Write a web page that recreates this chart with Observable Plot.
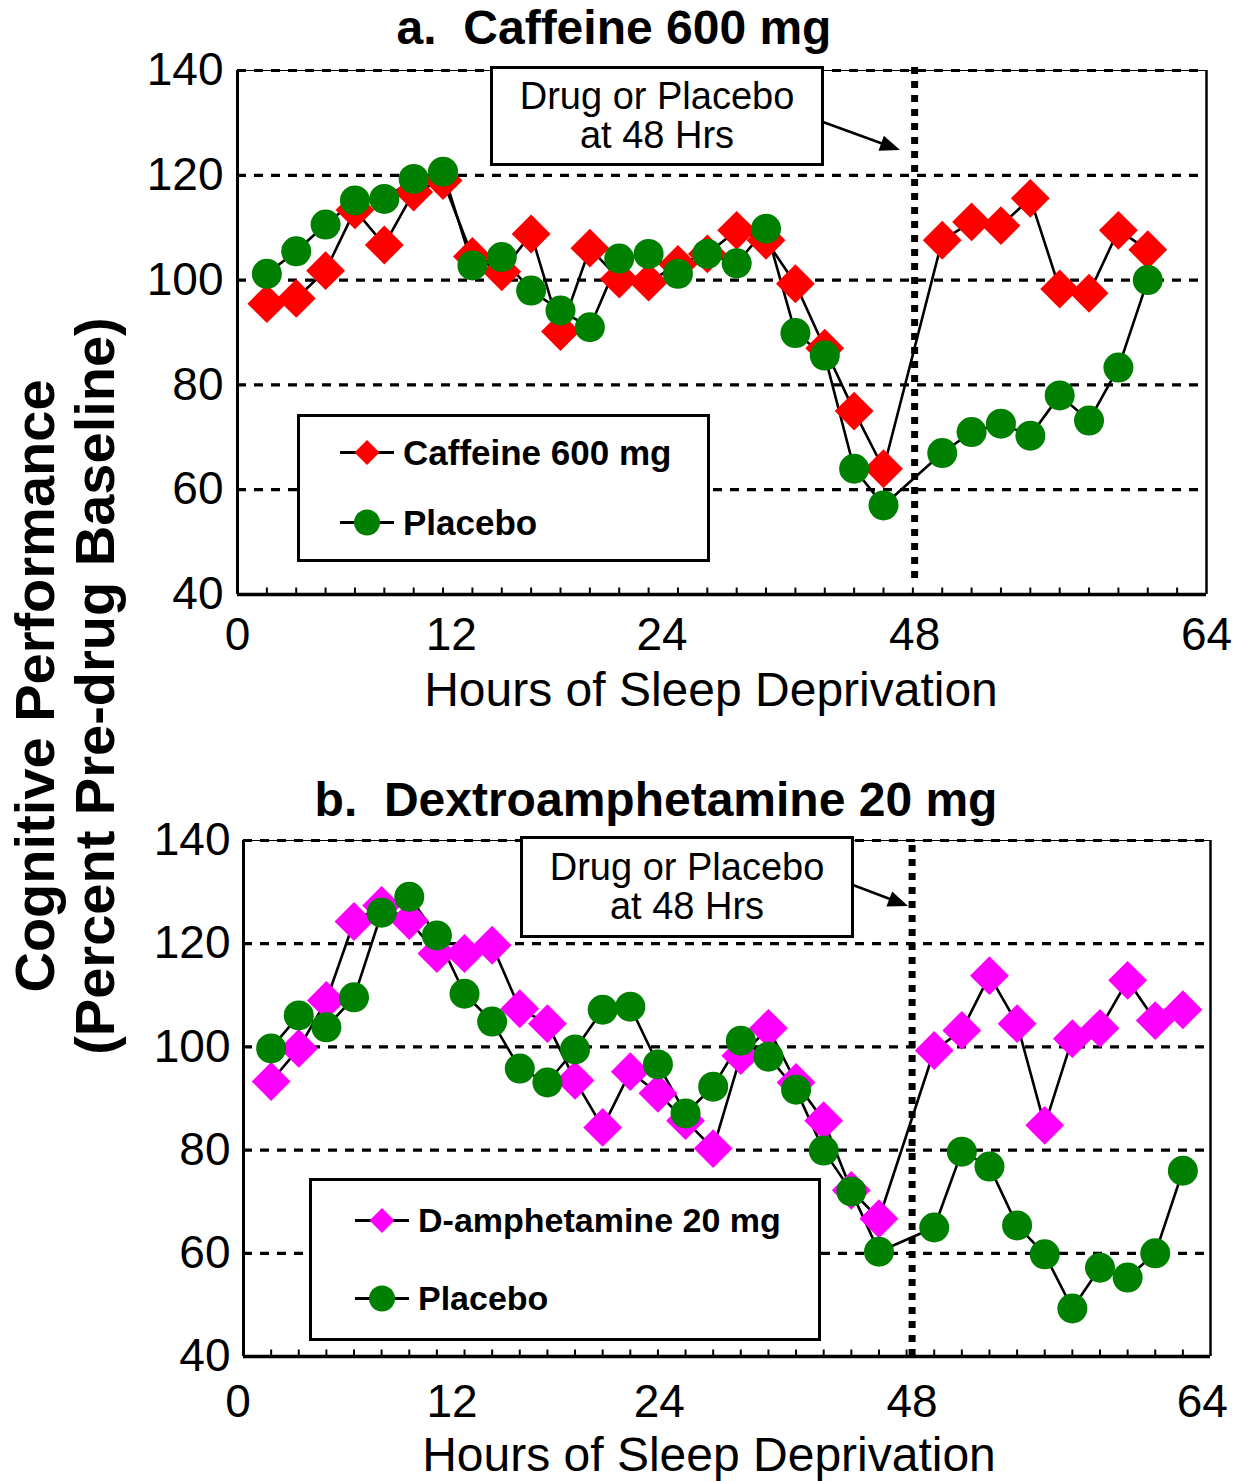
<!DOCTYPE html>
<html><head><meta charset="utf-8">
<script src="https://cdn.jsdelivr.net/npm/d3@7"></script>
<script src="https://cdn.jsdelivr.net/npm/@observablehq/plot@0.6"></script>
<style>
body{margin:0;background:#fff;font-family:"Liberation Sans",Arial,sans-serif;color:#000;}
#wrap{position:relative;width:1239px;height:1481px;overflow:hidden;background:#fff;}
.panel{position:absolute;left:0;}
.abs{position:absolute;white-space:pre;z-index:5;}
.title{font-weight:bold;font-size:48px;line-height:48px;transform:translateX(-50%);}
.xtitle{font-size:48px;line-height:48px;transform:translateX(-50%);}
.ytitle{font-weight:bold;font-size:56px;line-height:60px;text-align:center;transform:translate(-50%,-50%) rotate(-90deg);}
.note{border:3px solid #000;background:#fff;box-sizing:border-box;display:flex;flex-direction:column;justify-content:center;align-items:center;font-size:38px;line-height:39px;}
.legend{border:3px solid #000;background:#fff;box-sizing:border-box;}
.legrow{position:absolute;left:0;display:flex;align-items:center;font-weight:bold;font-size:35px;line-height:35px;}
.legrow svg{display:block;margin-right:9px;}
</style></head><body><div id="wrap"></div>
<script>
// ---------------- data ----------------
// x = test-session slot on the original axis (one slot per tick mark)
const slotsA = [1,2,3,4,5,6,7,8,9,10,11,12,13,14,15,16,17,18,19,20,21,22,24,25,26,27,28,29,30,31];
const caffeine = [95.5,96.5,101.8,113.4,106.7,116.8,119,104.5,101.6,108.8,90.2,106.1,100.2,99.6,103,105,109.5,107.6,99.3,87,75,64,107.6,111.1,110.4,115.6,98.3,97.5,109.5,105.8];
const placeboA = [101.2,105.5,110.6,115.2,115.5,119.3,120.7,102.8,104.4,98,94.2,91,104.1,105,101.2,105,103.2,109.8,89.9,85.6,64,57,67,71,72.6,70.3,78,73.2,83.3,100];

const slotsB = [1,2,3,4,5,6,7,8,9,10,11,12,13,14,15,16,17,18,19,20,21,22,23,25,26,27,28,29,30,31,32,33,34];
const amphetamine = [93.3,99.7,109,124.3,127.4,124.5,118.1,118.1,119.7,107.4,104.5,93.5,84.4,95.2,91,85.7,80.3,98.3,103.6,93.1,85.7,72.2,66.7,99.3,103.2,113.8,104.5,84.8,101.6,103.6,112.9,105.1,107.2];
const placeboB = [99.7,106.1,103.8,109.6,126,129.1,121.6,110.3,104.9,95.8,93.1,99.5,107.2,107.8,96.6,87.1,92.3,101.2,98.1,91.7,79.9,72,60.3,65,79.7,76.8,65.4,59.8,49.3,57.2,55.3,60,76];

const yTicks = [40,60,80,100,120,140];
const gridValues = [60,80,100,120,140];
const xTickLabels = ["0","12","24","48","64"];
const xTickSlotsA = [0,7.28,14.46,23.06,33];
const xTickSlotsB = [-0.2,7.55,15.05,24.2,34.7];
const drugSlotA = 23.06;
const drugSlotB = 24.2;

const RED = "#ff0000", GREEN = "#008000", MAGENTA = "#ff00ff";
const FONT = '"Liberation Sans", Arial, sans-serif';

function panel(cfg) {
  const drugRows = cfg.slots.map((s, i) => ({slot: s, value: cfg.drug[i]}));
  const placRows = cfg.slots.map((s, i) => ({slot: s, value: cfg.placebo[i]}));
  const minor = d3.range(1, cfg.nSlots);
  const plotH = cfg.height - cfg.marginTop - cfg.marginBottom;
  const pxPerUnit = plotH / 100;
  const labelMap = new Map(cfg.tickSlots.map((s, i) => [s, xTickLabels[i]]));
  return Plot.plot({
    width: 1239, height: cfg.height,
    marginTop: cfg.marginTop, marginBottom: cfg.marginBottom,
    marginLeft: cfg.marginLeft, marginRight: cfg.marginRight,
    x: {domain: [0, cfg.nSlots]},
    y: {domain: [40, 140]},
    style: {fontFamily: FONT, fontSize: "46px", color: "black", background: "transparent", overflow: "visible"},
    marks: [
      Plot.ruleY([140], {stroke: "black", strokeWidth: 1.2}),
      Plot.ruleY(gridValues, {stroke: "black", strokeWidth: 3.2, strokeDasharray: "9,8"}),
      Plot.ruleX(minor, {y1: 40, y2: 40 + 6.5 / pxPerUnit, stroke: "black", strokeWidth: 2}),
      Plot.ruleX([0], {stroke: "black", strokeWidth: 3}),
      Plot.ruleX([cfg.nSlots], {stroke: "black", strokeWidth: 2.5}),
      Plot.ruleY([40], {stroke: "black", strokeWidth: 3.5}),
      Plot.ruleX([cfg.drugSlot], {y1: 40 + cfg.ruleBottomPx / pxPerUnit, y2: 140 + cfg.ruleTopPx / pxPerUnit, stroke: "black", strokeWidth: 7, strokeDasharray: "7,7"}),
      Plot.line(drugRows, {x: "slot", y: "value", stroke: "black", strokeWidth: 2.6}),
      Plot.line(placRows, {x: "slot", y: "value", stroke: "black", strokeWidth: 2.6}),
      Plot.dot(drugRows, {x: "slot", y: "value", symbol: "diamond2", r: 17.5, fill: cfg.color, stroke: "none"}),
      Plot.dot(placRows, {x: "slot", y: "value", symbol: "circle", r: 15, fill: GREEN, stroke: "none"}),
      Plot.axisY(yTicks, {tickSize: 0, tickPadding: cfg.yPad, fontSize: 46, label: null}),
      Plot.axisX(cfg.tickSlots, {tickSize: 0, tickPadding: cfg.xPad, fontSize: 46, label: null, tickFormat: d => labelMap.get(d)})
    ]
  });
}

const wrap = document.getElementById("wrap");

const pa = panel({slots: slotsA, drug: caffeine, placebo: placeboA, color: RED, nSlots: 33,
  tickSlots: xTickSlotsA, drugSlot: drugSlotA, height: 720, marginTop: 70, marginBottom: 126,
  marginLeft: 237, marginRight: 33, ruleBottomPx: 16, ruleTopPx: 4, yPad: 14, xPad: 23});
pa.classList.add("panel"); pa.style.top = "0px";
wrap.appendChild(pa);

const pb = panel({slots: slotsB, drug: amphetamine, placebo: placeboB, color: MAGENTA, nSlots: 35,
  tickSlots: xTickSlotsB, drugSlot: drugSlotB, height: 711, marginTop: 70, marginBottom: 125,
  marginLeft: 243, marginRight: 29, ruleBottomPx: 0, ruleTopPx: 0, yPad: 13, xPad: 28});
pb.classList.add("panel"); pb.style.top = "770px";
wrap.appendChild(pb);

function add(html) { wrap.insertAdjacentHTML("beforeend", html); }

// titles
add(`<div class="abs title" style="left:614px;top:4px;">a.  Caffeine 600 mg</div>`);
add(`<div class="abs title" style="left:656px;top:776px;">b.  Dextroamphetamine 20 mg</div>`);
add(`<div class="abs xtitle" style="left:711px;top:666px;">Hours of Sleep Deprivation</div>`);
add(`<div class="abs xtitle" style="left:709px;top:1431px;">Hours of Sleep Deprivation</div>`);
add(`<div class="abs ytitle" style="left:65px;top:686px;">Cognitive Performance\n(Percent Pre-drug Baseline)</div>`);

// annotation boxes
add(`<div class="abs note" style="left:490px;top:66px;width:334px;height:100px;"><div>Drug or Placebo</div><div>at 48 Hrs</div></div>`);
add(`<div class="abs note" style="left:520px;top:836px;width:334px;height:102px;"><div>Drug or Placebo</div><div>at 48 Hrs</div></div>`);

// arrows
add(`<svg class="abs" style="left:0;top:0;" width="1239" height="1481">
  <line x1="823" y1="122" x2="882" y2="143.5" stroke="black" stroke-width="2.5"/>
  <polygon points="900,150 878.5,150.7 883.9,135.7" fill="black"/>
  <line x1="853" y1="885" x2="890" y2="899" stroke="black" stroke-width="2.5"/>
  <polygon points="908,906 886.4,906.4 892.2,891.4" fill="black"/>
</svg>`);

// legends
function swatch(kind, color) {
  const mk = kind === "diamond"
    ? `<polygon points="27,1 39.5,13.5 27,26 14.5,13.5" fill="${color}"/>`
    : `<circle cx="27" cy="13.5" r="13" fill="${color}"/>`;
  return `<svg width="54" height="27"><line x1="0" y1="13.5" x2="54" y2="13.5" stroke="black" stroke-width="3"/>${mk}</svg>`;
}
add(`<div class="abs legend" style="left:297px;top:414px;width:413px;height:148px;">
  <div class="legrow" style="left:40px;top:18px;height:35px;">${swatch("diamond", RED)}<span>Caffeine 600 mg</span></div>
  <div class="legrow" style="left:40px;top:88px;height:35px;">${swatch("circle", GREEN)}<span>Placebo</span></div>
</div>`);
add(`<div class="abs legend" style="left:309px;top:1178px;width:512px;height:163px;">
  <div class="legrow" style="left:43px;top:22px;height:35px;font-size:34px;">${swatch("diamond", MAGENTA)}<span>D-amphetamine 20 mg</span></div>
  <div class="legrow" style="left:43px;top:100px;height:35px;font-size:34px;">${swatch("circle", GREEN)}<span>Placebo</span></div>
</div>`);
</script>
</body></html>
